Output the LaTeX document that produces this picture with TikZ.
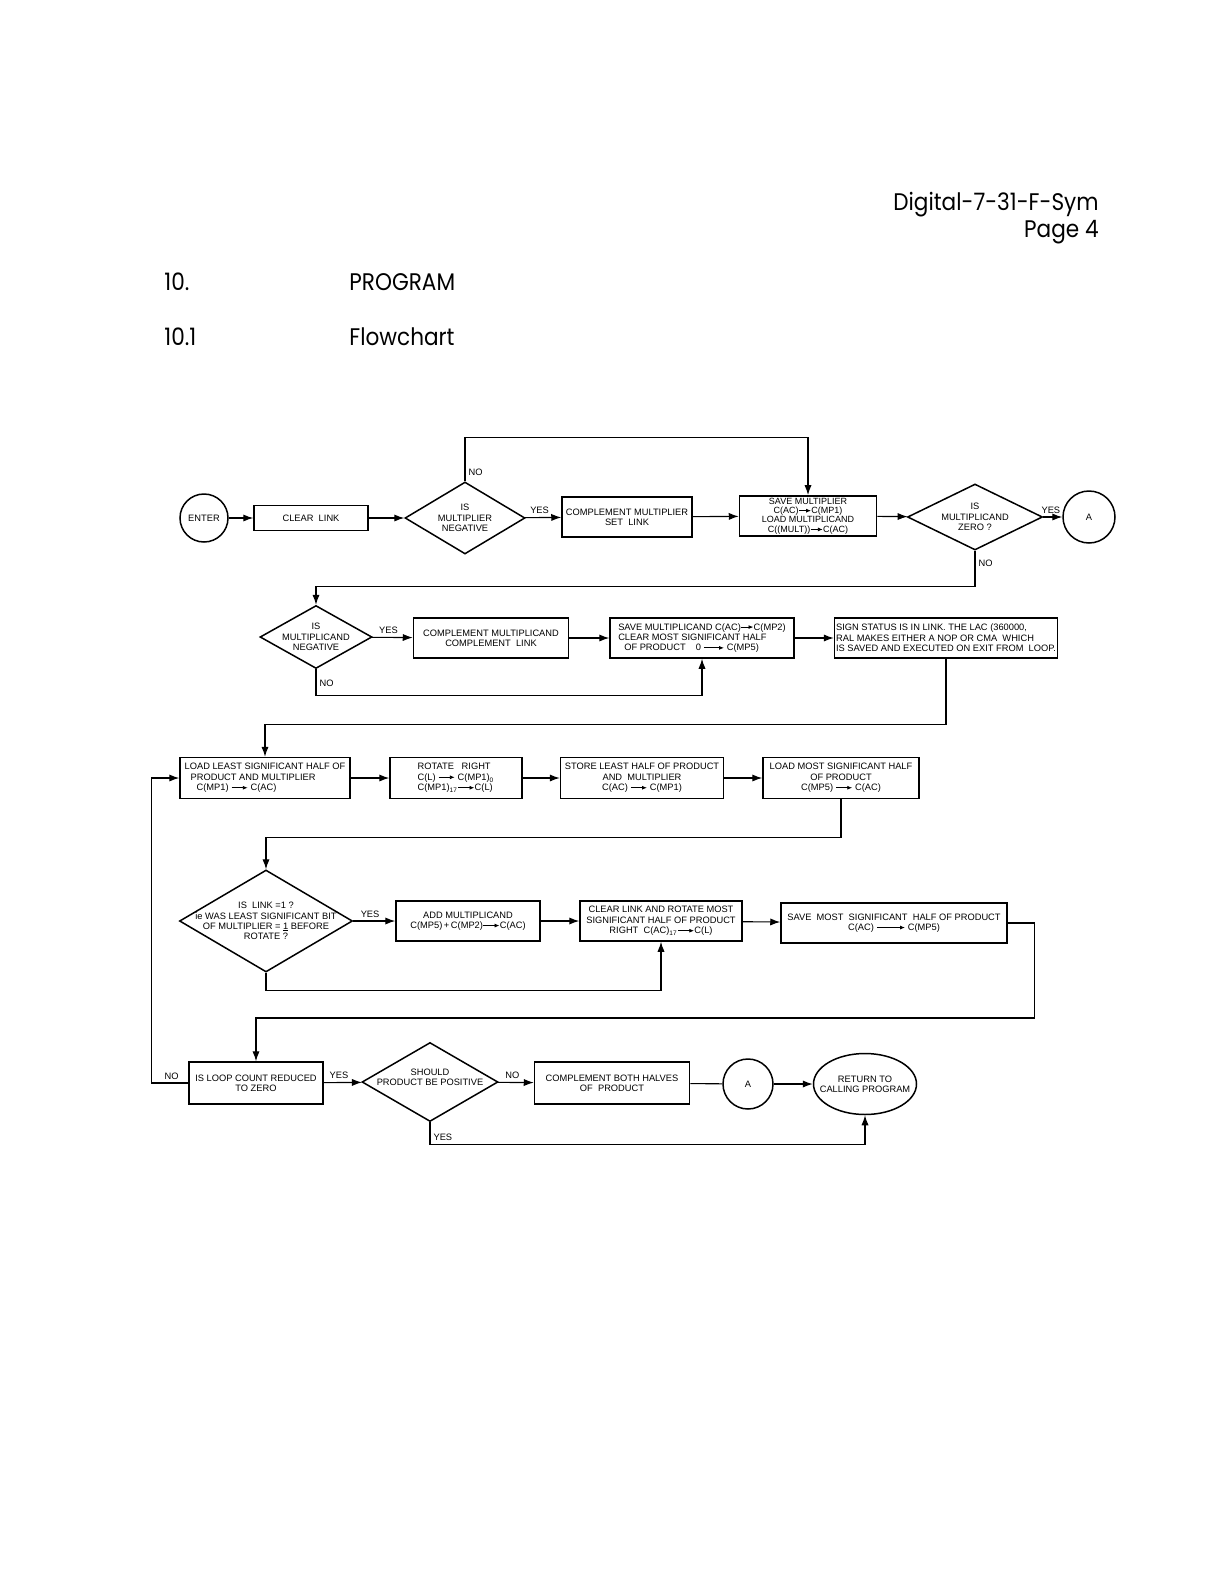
\documentclass[tikz,border=0pt]{standalone}
\usepackage{fontspec}
\setmainfont{Liberation Sans}
\newfontfamily\headfont{Poppins}[FakeStretch=0.9]
\usetikzlibrary{shapes.geometric,arrows.meta}
\newcommand{\rar}[1][8pt]{\tikz[baseline=-0.6ex]\draw[-{Latex[length=2.4pt,width=2pt]},line width=0.4pt](0pt,0pt)--(#1,0pt);}
\newcommand{\ulone}{\makebox[0pt][l]{\rule[-0.35pt]{2.6pt}{0.3pt}}1}
\begin{document}
\begin{tikzpicture}[x=0.5pt,y=-0.5pt,
  every node/.style={font=\fontsize{4.65}{5.2}\selectfont},
  box/.style={draw,line width=0.75pt,inner xsep=0.5pt,inner ysep=1pt,align=center},
  dia/.style={draw,diamond,line width=0.75pt,inner sep=0pt},
  circ/.style={draw,circle,line width=0.75pt,inner sep=0pt},
  conn/.style={line width=0.55pt},
  arr/.style={conn,-{Latex[length=5pt,width=3.6pt]}},
  lab/.style={inner sep=1.5pt},
  head/.style={font=\headfont\fontsize{12}{14}\selectfont,inner sep=0pt}]
\useasboundingbox (0,0) rectangle (1224,1584);
% header
\node[head,anchor=base east] (h1) at (1099,210) {Digital-7-31-F-Sym};
\node[head,anchor=base east] (h2) at (1099,237) {Page 4};
\node[head,anchor=base west] (h3) at (164,290) {10.};
\node[head,anchor=base west] (h4) at (349,290) {PROGRAM};
\node[head,anchor=base west] (h5) at (164,345) {10.1};
\node[head,anchor=base west] (h6) at (349,345) {Flowchart};
% row 1
\node[circ,minimum size=24pt] (enter) at (204,518) {ENTER};
\node[box,minimum width=57pt,minimum height=12.5pt] (clear) at (311,518) {CLEAR\ \ LINK};
\node[dia,minimum width=60pt,minimum height=36pt] (d1) at (465,518) {};
\node[align=center] (t1) at (d1) {IS\\MULTIPLIER\\NEGATIVE};
\node[box,minimum width=65pt,minimum height=20pt] (cm) at (627,517) {COMPLEMENT MULTIPLIER\\SET\ \ LINK};
\node[box,minimum width=68.5pt,minimum height=20pt,font=\fontsize{4.5}{4.7}\selectfont] (sm) at (808,516) {SAVE MULTIPLIER\\C(AC)\rar[6pt]C(MP1)\\LOAD MULTIPLICAND\\C((MULT))\rar[6pt]C(AC)};
\node[dia,minimum width=67.5pt,minimum height=33pt] (d2) at (975,517) {};
\node[align=center] (t2) at (d2) {IS\\MULTIPLICAND\\ZERO ?};
\node[circ,minimum size=26pt] (a1) at (1089,517) {A};
% row 2
\node[dia,minimum width=56pt,minimum height=31.5pt] (d3) at (316,637) {};
\node[align=center] (t3) at (d3) {IS\\MULTIPLICAND\\NEGATIVE};
\node[box,minimum width=77.5pt,minimum height=20pt] (cmc) at (491,638) {COMPLEMENT MULTIPLICAND\\COMPLEMENT\ \ LINK};
\node[box,minimum width=92pt,minimum height=20pt,align=left] (smc) at (702,638) {SAVE MULTIPLICAND C(AC)\rar[6pt]C(MP2)\\CLEAR MOST SIGNIFICANT HALF\\\hspace{3pt}OF PRODUCT\hspace{5pt}0 \rar[10pt] C(MP5)};
\node[box,minimum width=111.5pt,minimum height=20pt,align=left] (sign) at (946,638) {SIGN STATUS IS IN LINK. THE LAC (360000,\\RAL MAKES EITHER A NOP OR CMA\ \ WHICH\\IS SAVED AND EXECUTED ON EXIT FROM\ \ LOOP.};
% row 3
\node[box,minimum width=85pt,minimum height=20.5pt,align=left] (ll) at (265,778) {LOAD LEAST SIGNIFICANT HALF OF\\\hspace{3pt}PRODUCT AND MULTIPLIER\\\hspace{6pt}C(MP1) \rar\ C(AC)};
\node[box,minimum width=66pt,minimum height=20.5pt,align=left] (rot) at (456,778) {ROTATE\ \ \ RIGHT\\C(L) \rar\ C(MP1)\textsubscript{0}\\C(MP1)\textsubscript{17}\rar C(L)};
\node[box,minimum width=81.5pt,minimum height=20.5pt] (st) at (642,778) {STORE LEAST HALF OF PRODUCT\\AND\ \ MULTIPLIER\\C(AC) \rar\ C(MP1)};
\node[box,minimum width=78pt,minimum height=20.5pt] (lm) at (841,778) {LOAD MOST SIGNIFICANT HALF\\OF PRODUCT\\C(MP5) \rar\ C(AC)};
% row 4
\node[dia,minimum width=86.5pt,minimum height=51pt] (d4) at (266,921) {};
\node[align=center] (t4) at (d4) {IS\ \ LINK =1 ?\\ie WAS LEAST SIGNIFICANT BIT\\OF MULTIPLIER = \ulone\ BEFORE\\ROTATE ?};
\node[box,minimum width=72pt,minimum height=20pt] (add) at (468,921) {ADD MULTIPLICAND\\C(MP5)\,+\,C(MP2)\rar C(AC)};
\node[box,minimum width=81pt,minimum height=20pt] (clr) at (661,921) {CLEAR LINK AND ROTATE MOST\\SIGNIFICANT HALF OF PRODUCT\\RIGHT\ \ C(AC)\textsubscript{17}\rar C(L)};
\node[box,minimum width=113pt,minimum height=20pt] (svm) at (894,923) {SAVE\ \ MOST\ \ SIGNIFICANT\ \ HALF OF PRODUCT\\C(AC) \rar[14pt] C(MP5)};
% row 5
\node[box,minimum width=67pt,minimum height=21pt] (loop) at (256,1083) {IS LOOP COUNT REDUCED\\TO ZERO};
\node[dia,minimum width=68pt,minimum height=39.5pt] (d5) at (430,1082) {};
\node[align=center] (t5) at (430,1077) {SHOULD\\PRODUCT BE POSITIVE};
\node[box,minimum width=77.5pt,minimum height=21pt] (cb) at (612,1083) {COMPLEMENT BOTH HALVES\\OF\ \ PRODUCT};
\node[circ,minimum size=25pt] (a2) at (748,1084) {A};
\node[draw,ellipse,line width=0.75pt,minimum width=51.5pt,minimum height=30.5pt,inner sep=0pt] (ret) at (865,1084) {};
\node[align=center] (t6) at (ret) {RETURN TO\\CALLING PROGRAM};
% connectors
\draw[arr] (enter) -- (clear);
\draw[arr] (clear) -- (d1);
\draw[arr] (d1) -- node[lab,above,pos=0.4]{YES} (cm);
\draw[arr] (d1.north) -- node[lab,right,pos=0.2]{NO} ++(0,-44) -| (sm.north);
\draw[arr] (cm) -- (sm);
\draw[arr] (sm) -- (d2);
\draw[arr] (d2) -- node[lab,above,pos=0.4]{YES} (a1);
\draw[arr] (d2.south) -- node[lab,right,pos=0.35]{NO} ++(0,36) -| (d3.north);
\draw[arr] (d3) -- node[lab,above,pos=0.4]{YES} (cmc);
\draw[arr] (cmc) -- (smc);
\draw[arr] (d3.south) -- node[lab,right,pos=0.55]{NO} ++(0,26) -| (smc.south);
\draw[arr] (smc) -- (sign);
\draw[arr] (sign.south) -- ++(0,66) -| (ll.north);
\draw[arr] (ll) -- (rot);
\draw[arr] (rot) -- (st);
\draw[arr] (st) -- (lm);
\draw[arr] (lm.south) -- ++(0,38) -| (d4.north);
\draw[arr] (d4) -- node[lab,above,pos=0.4]{YES} (add);
\draw[arr] (add) -- (clr);
\draw[arr] (d4.south) -- ++(0,18) -| (clr.south);
\draw[arr] (clr) -- (svm);
\draw[arr] (svm.east) -- ++(27,0) -- ++(0,95) -| (loop.north);
\draw[arr] (loop.west) -- node[lab,above,pos=0.45]{NO} ++(-37,0) |- (ll.west);
\draw[arr] (loop) -- node[lab,above,pos=0.4]{YES} (d5);
\draw[arr] (d5) -- node[lab,above,pos=0.4]{NO} (cb);
\draw[conn] (cb) -- (a2);
\draw[arr] (a2) -- (ret);
\draw[arr] (d5.south) -- ++(0,22) -| node[lab,above right,pos=0]{YES} (ret.south);
\end{tikzpicture}
\end{document}
